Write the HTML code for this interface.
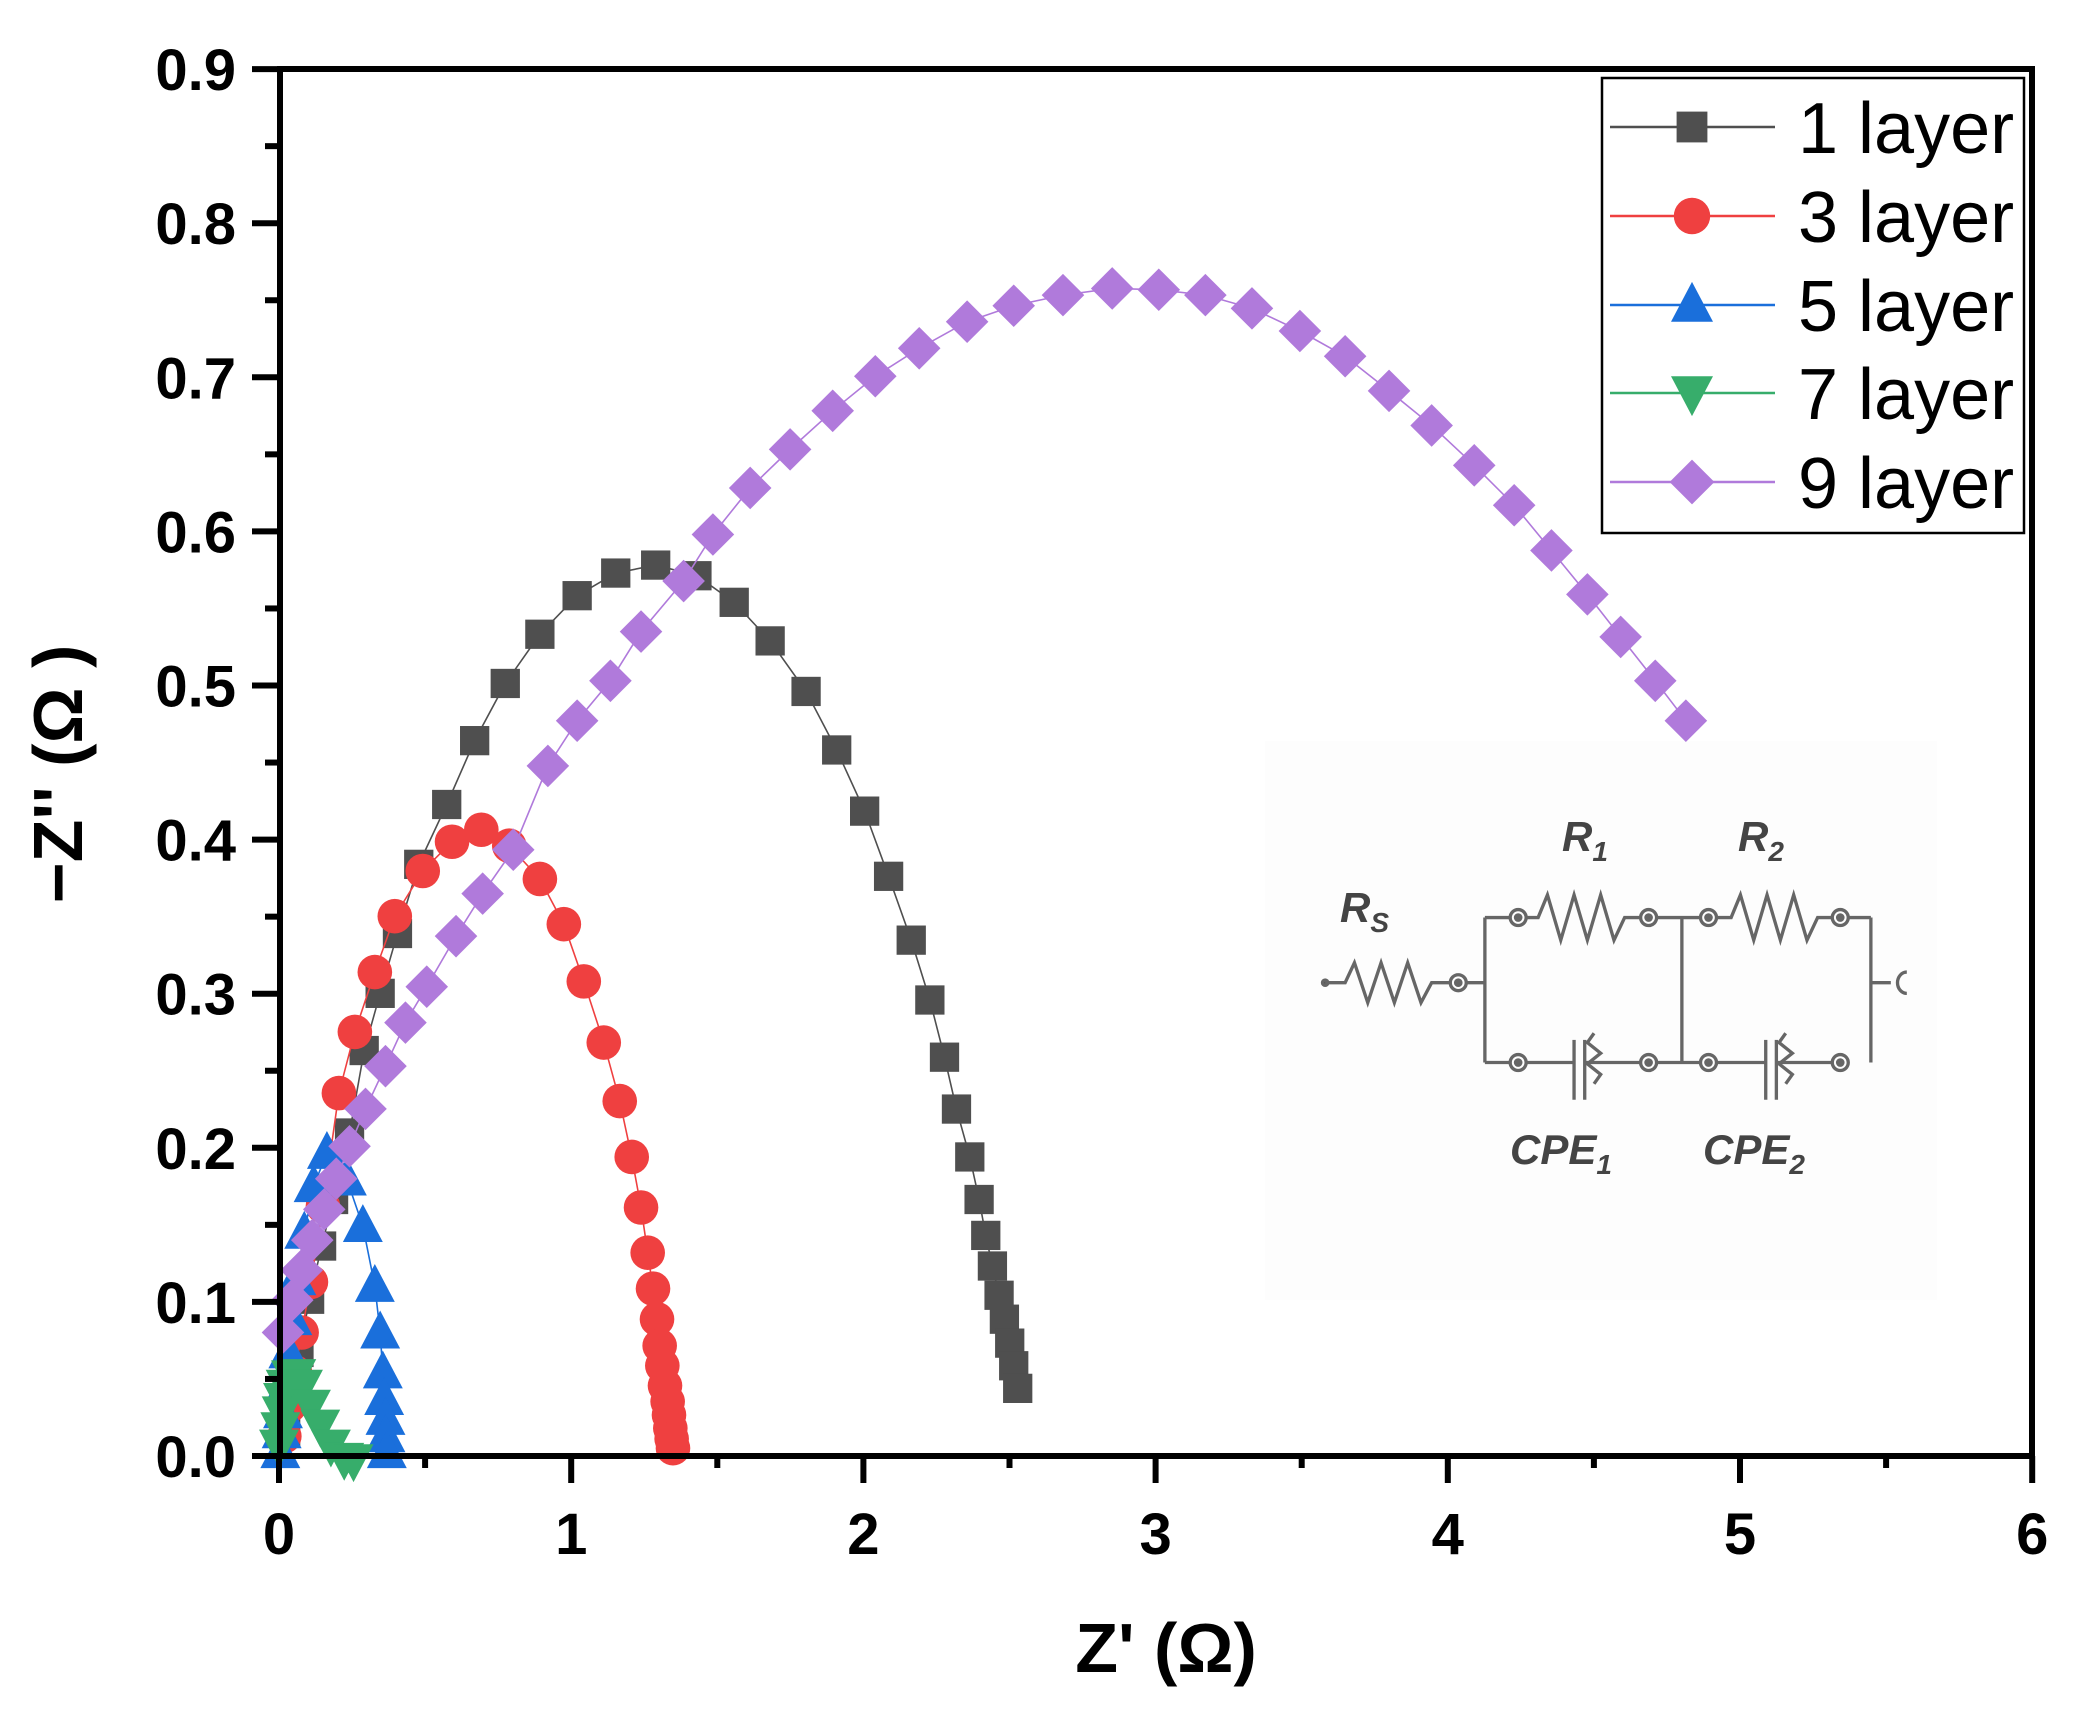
<!DOCTYPE html>
<html><head><meta charset="utf-8"><style>
html,body{margin:0;padding:0;background:#fff}
svg{display:block}
text{font-family:"Liberation Sans",Arial,sans-serif}
</style></head><body>
<svg id="s" width="2086" height="1715" viewBox="0 0 2086 1715" xmlns="http://www.w3.org/2000/svg">
<rect width="2086" height="1715" fill="#fff"/>
<rect x="1265" y="741" width="672" height="559" fill="#fdfdfd"/>
<g id="data" transform="translate(279,69) scale(1.331,1.33) translate(-209,-50)"></g>
<g transform="translate(279,69) scale(1.331,1.33) translate(-209,-50)" stroke="#666" stroke-width="2.5" fill="none">
 <circle cx="995" cy="737" r="2" fill="#555"/>
 <polyline points="995,737 1010,737 1017,722 1027,752 1037,722 1047,752 1057,722 1067,752 1075,737 1088,737"/>
 <circle cx="1095" cy="737" r="6"/><circle cx="1095" cy="737" r="2" fill="#666"/>
 <line x1="1101" y1="737" x2="1115" y2="737"/>
 <line x1="1115" y1="688" x2="1115" y2="797"/>
 <line x1="1115" y1="688" x2="1134" y2="688"/><circle cx="1140" cy="688" r="6"/><circle cx="1140" cy="688" r="2" fill="#666"/>
 <polyline points="1146,688 1155,688 1162,671 1172,705 1182,671 1192,705 1202,671 1212,705 1220,688 1232,688"/>
 <circle cx="1238" cy="688" r="6"/><circle cx="1238" cy="688" r="2" fill="#666"/><line x1="1244" y1="688" x2="1277" y2="688"/>
 <circle cx="1283" cy="688" r="6"/><circle cx="1283" cy="688" r="2" fill="#666"/>
 <polyline points="1289,688 1300,688 1307,671 1317,705 1327,671 1337,705 1347,671 1357,705 1365,688 1376,688"/>
 <circle cx="1382" cy="688" r="6"/><circle cx="1382" cy="688" r="2" fill="#666"/><line x1="1388" y1="688" x2="1405" y2="688"/>
 <line x1="1405" y1="688" x2="1405" y2="797"/>
 <line x1="1405" y1="737" x2="1420" y2="737"/>
 <path d="M1432,729 A7,8 0 1 0 1432,745"/>
 <line x1="1263" y1="688" x2="1263" y2="797"/>
 <line x1="1115" y1="797" x2="1134" y2="797"/><circle cx="1140" cy="797" r="6"/><circle cx="1140" cy="797" r="2" fill="#666"/>
 <line x1="1146" y1="797" x2="1182" y2="797"/><line x1="1182" y1="780" x2="1182" y2="825"/><line x1="1190" y1="780" x2="1190" y2="825"/>
 <polyline points="1197,775 1192,782 1202,790 1192,798 1202,806 1197,813"/>
 <line x1="1190" y1="797" x2="1232" y2="797"/><circle cx="1238" cy="797" r="6"/><circle cx="1238" cy="797" r="2" fill="#666"/>
 <line x1="1244" y1="797" x2="1277" y2="797"/><circle cx="1283" cy="797" r="6"/><circle cx="1283" cy="797" r="2" fill="#666"/>
 <line x1="1289" y1="797" x2="1326" y2="797"/><line x1="1326" y1="780" x2="1326" y2="825"/><line x1="1334" y1="780" x2="1334" y2="825"/>
 <polyline points="1341,775 1336,782 1346,790 1336,798 1346,806 1341,813"/>
 <line x1="1334" y1="797" x2="1376" y2="797"/><circle cx="1382" cy="797" r="6"/><circle cx="1382" cy="797" r="2" fill="#666"/>
</g>
<g font-weight="bold" font-style="italic" fill="#444" font-size="42">
 <text x="1340" y="922">R<tspan font-size="28" dy="10">S</tspan></text>
 <text x="1562" y="851">R<tspan font-size="28" dy="10">1</tspan></text>
 <text x="1738" y="851">R<tspan font-size="28" dy="10">2</tspan></text>
 <text x="1510" y="1164">CPE<tspan font-size="28" dy="10">1</tspan></text>
 <text x="1703" y="1164">CPE<tspan font-size="28" dy="10">2</tspan></text>
</g>
<g stroke="#000" stroke-width="6" fill="none">
 <rect x="280" y="69" width="1752" height="1387"/>
</g>
<g id="ticks" stroke="#000" stroke-width="6"></g>
<g id="labels" font-weight="bold" font-size="58" fill="#000"></g>
<text x="1166" y="1672" font-size="70" font-weight="bold" text-anchor="middle">Z' (Ω)</text>
<text transform="translate(82,774) rotate(-90)" font-size="70" font-weight="bold" text-anchor="middle">−Z'' (Ω )</text>
<rect x="1602" y="78" width="422" height="455" fill="#fff" stroke="#000" stroke-width="2.5"/>
<g id="legend"></g>
</svg>
<script>
const NS="http://www.w3.org/2000/svg";
function el(p,t,a){const e=document.createElementNS(NS,t);for(const k in a)e.setAttribute(k,a[k]);p.appendChild(e);return e;}
const data=document.getElementById('data');
function marker(p,type,x,y,c,s){
 if(type=='sq')el(p,'rect',{x:x-s/2,y:y-s/2,width:s,height:s,fill:c});
 else if(type=='ci')el(p,'circle',{cx:x,cy:y,r:s/2,fill:c});
 else if(type=='up')el(p,'polygon',{points:`${x},${y-s*0.55} ${x-s/2},${y+s*0.4} ${x+s/2},${y+s*0.4}`,fill:c});
 else if(type=='dn')el(p,'polygon',{points:`${x},${y+s*0.55} ${x-s/2},${y-s*0.4} ${x+s/2},${y-s*0.4}`,fill:c});
 else if(type=='di')el(p,'polygon',{points:`${x},${y-s/2} ${x+s/2},${y} ${x},${y+s/2} ${x-s/2},${y}`,fill:c});
}
const series=[
 {c:'#4f4f4f',t:'sq',s:22,p:[[214,1075],[218,1050],[224,1015],[232,975],[241,935],[250,900],[262,850],[273,788],[285,745],[298,700],[314,648],[335,603],[356,555],[379,512],[405,475],[433,446],[462,429],[492,423],[523,431],[551,451],[578,480],[605,518],[628,562],[649,608],[667,657],[684,705],[698,750],[709,793],[718,832],[728,868],[735,900],[740,927],[745,950],[750,972],[754,990],[758,1008],[761,1025],[764,1042]]},
 {c:'#ef4040',t:'ci',s:26,p:[[213,1078],[217,1055],[221,1030],[226,1000],[233,962],[242,905],[254,820],[266,774],[281,729],[296,687],[317,653],[339,631],[361,622],[382,634],[405,659],[423,693],[438,736],[453,782],[465,826],[474,868],[481,906],[486,940],[490,967],[493,990],[495,1010],[497,1025],[499,1040],[501,1052],[502,1062],[503,1072],[504,1080],[505,1087]]},
 {c:'#1a6fdb',t:'up',s:30,p:[[210,1090],[211,1075],[212,1060],[214,1040],[216,1015],[219,990],[222,960],[228,925],[235,890],[245,865],[260,885],[272,920],[281,965],[285,1000],[287,1030],[288,1050],[289,1065],[289,1078],[290,1090]]},
 {c:'#37ad6b',t:'dn',s:30,p:[[209,1085],[210,1072],[211,1060],[212,1050],[214,1040],[218,1033],[222,1032],[227,1040],[233,1055],[240,1070],[248,1085],[258,1095],[265,1096]]},
 {c:'#b07adb',t:'di',s:32,p:[[212,1000],[219,978],[226,958],[234,938],[243,918],[252,898],[262,877],[274,853],[289,826],[304,797],[320,770],[342,732],[362,700],[385,667],[411,604],[433,570],[458,540],[481,503],[513,465],[535,430],[563,395],[593,366],[625,337],[657,311],[690,290],[726,270],[761,258],[798,250],[835,245],[870,246],[905,250],[940,260],[976,277],[1010,296],[1043,322],[1075,348],[1107,378],[1137,408],[1165,442],[1192,475],[1217,507],[1243,540],[1266,570]]}
];
series[4].p=series[4].p.map(([x,y])=>{const d=x>=300?-30:-30*Math.max(0,(x-212))/88;return [x,y+d];});
for(const s of series){
 const g=el(data,'g',{});
 el(g,'polyline',{points:s.p.map(q=>q.join(',')).join(' '),fill:'none',stroke:s.c,'stroke-width':1.2});
 for(const q of s.p)marker(g,s.t,q[0],q[1],s.c,s.s);
}
const tk=document.getElementById('ticks'),lb=document.getElementById('labels');
for(let i=0;i<=12;i++){const x=279+i*292.2/2;const big=i%2==0;
 el(tk,'line',{x1:x,y1:1456,x2:x,y2:1456+(big?27:12)});
 if(big){const t=el(lb,'text',{x:x,y:1554,'text-anchor':'middle'});t.textContent=String(i/2);}}
for(let i=0;i<=18;i++){const y=1456-i*154.1/2;const big=i%2==0;
 el(tk,'line',{x1:280,y1:y,x2:280-(big?28:15),y2:y});
 if(big){const t=el(lb,'text',{x:236,y:y+21,'text-anchor':'end'});t.textContent=(i/20).toFixed(1);}}
const lg=document.getElementById('legend');
const ys=[127,216,305,393,482];
series.forEach((s,i)=>{const y=ys[i];
 el(lg,'line',{x1:1610,y1:y,x2:1775,y2:y,stroke:s.c,'stroke-width':2.5});
 marker(lg,s.t,1692,y,s.c,s.s*1.4);
 const t=el(lg,'text',{x:1798,y:y+26,'font-size':72,fill:'#000'});t.textContent=['1','3','5','7','9'][i]+' layer';
});
</script>
</body></html>
